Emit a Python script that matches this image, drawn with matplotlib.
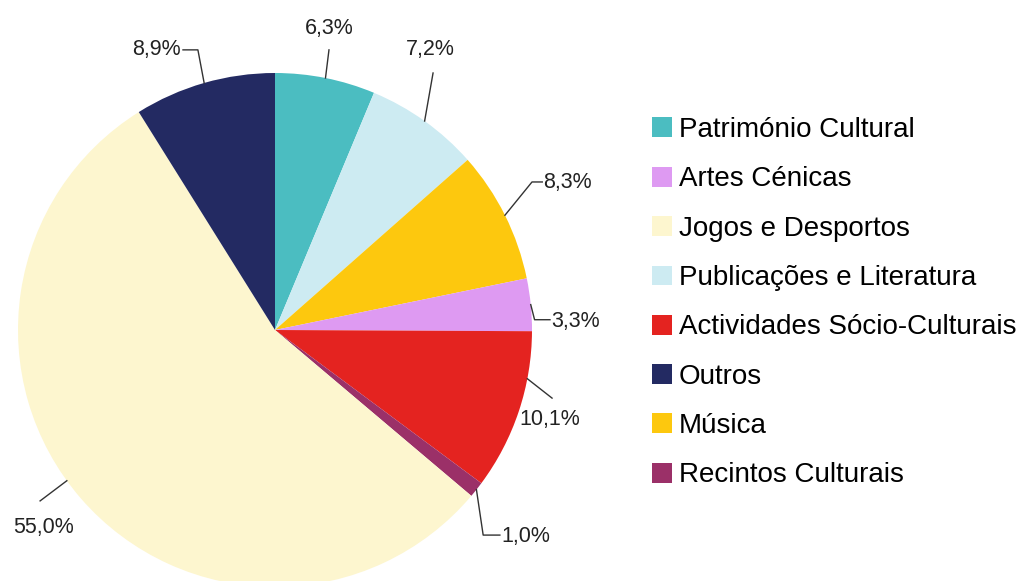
import numpy as np
import matplotlib.pyplot as plt

categorias = ['Património Cultural', 'Publicações e Literatura', 'Música', 'Artes Cénicas',
              'Actividades Sócio-Culturais', 'Recintos Culturais', 'Jogos e Desportos', 'Outros']
valores = [6.3, 7.2, 8.3, 3.3, 10.1, 1.0, 55.0, 8.9]
cores = ['#4BBDC1', '#CDEBF2', '#FDC80E', '#DE9AF2', '#E42320', '#9B3068', '#FDF6CF', '#232A62']
ordem_legenda = ['Património Cultural', 'Artes Cénicas', 'Jogos e Desportos', 'Publicações e Literatura',
                 'Actividades Sócio-Culturais', 'Outros', 'Música', 'Recintos Culturais']

fonte = ['Liberation Sans Narrow', 'Liberation Sans', 'DejaVu Sans']

# posicao dos rotulos: desvio do angulo, pontos da linha, posicao do texto, alinhamento
layout = [
    (0, [(0.21, 1.09)], (0.21, 1.175), 'center'),
    (0, [(0.615, 1.0)], (0.603, 1.09), 'center'),
    (0, [(1.0, 0.576), (1.04, 0.576)], (1.045, 0.572), 'left'),
    (0, [(1.01, 0.04), (1.07, 0.04)], (1.075, 0.035), 'left'),
    (7.5, [(1.078, -0.265)], (1.07, -0.35), 'center'),
    (0, [(0.81, -0.798), (0.875, -0.798)], (0.88, -0.805), 'left'),
    (-5, [(-0.914, -0.665)], (-0.9, -0.767), 'center'),
    (0, [(-0.30, 1.09), (-0.358, 1.09)], (-0.365, 1.09), 'right'),
]

fig = plt.figure(figsize=(10.26, 5.81), dpi=100)
ax = fig.add_axes([18/1026, -6/581, 514/1026, 514/581])
wedges, _ = ax.pie(valores, colors=cores, startangle=90, counterclock=False, radius=1,
                   wedgeprops=dict(linewidth=0))
ax.set_xlim(-1, 1)
ax.set_ylim(-1, 1)
ax.axis('off')

for w, v, (desvio, pontos, pos, ha) in zip(wedges, valores, layout):
    ang = np.deg2rad((w.theta1 + w.theta2) / 2 + desvio)
    xs = [np.cos(ang)] + [p[0] for p in pontos]
    ys = [np.sin(ang)] + [p[1] for p in pontos]
    ax.plot(xs, ys, color='#333333', lw=1, clip_on=False)
    txt = f'{v:.1f}'.replace('.', ',') + '%'
    ax.text(pos[0], pos[1], txt, ha=ha, va='center', fontsize=15.5, family=fonte, color='#222222')

handles = [wedges[categorias.index(c)] for c in ordem_legenda]
fig.legend(handles, ordem_legenda, loc='upper left', bbox_to_anchor=(641/1026, 1 - 106/581),
           frameon=False, handlelength=0.72, handleheight=0.72, handletextpad=0.25,
           labelspacing=0.84, prop={'family': fonte, 'size': 20}, borderaxespad=0)

fig.savefig('out.png', dpi=100)
